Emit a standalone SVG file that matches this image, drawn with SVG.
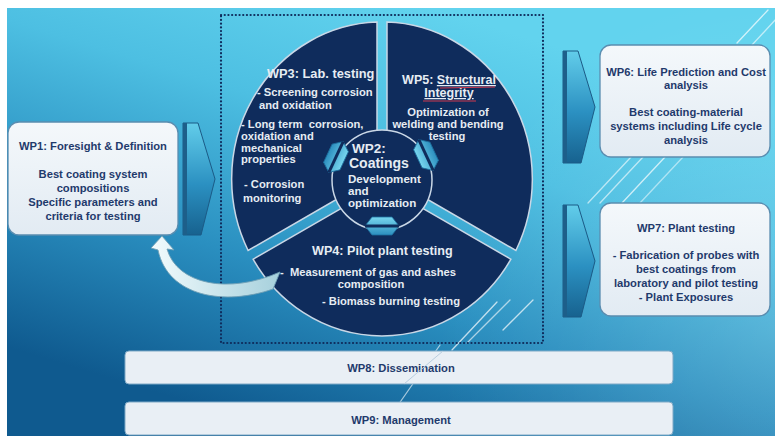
<svg xmlns="http://www.w3.org/2000/svg" width="777" height="436" viewBox="0 0 777 436">
  <defs>
    <linearGradient id="bg" gradientUnits="userSpaceOnUse" x1="430" y1="8" x2="300" y2="436">
      <stop offset="0" stop-color="#62d3ee"/>
      <stop offset="0.3" stop-color="#4dbfe2"/>
      <stop offset="0.65" stop-color="#2a8fc0"/>
      <stop offset="1" stop-color="#0f5a8f"/>
    </linearGradient>
    <radialGradient id="glow" gradientUnits="userSpaceOnUse" cx="777" cy="330" r="340">
      <stop offset="0" stop-color="#ffffff" stop-opacity="0.14"/>
      <stop offset="1" stop-color="#ffffff" stop-opacity="0"/>
    </radialGradient>
    <linearGradient id="card" x1="0" y1="0" x2="0" y2="1">
      <stop offset="0" stop-color="#f4f8fb"/>
      <stop offset="1" stop-color="#e2ebf3"/>
    </linearGradient>
    <linearGradient id="chev" x1="0" y1="0" x2="0" y2="1">
      <stop offset="0" stop-color="#62cdea"/>
      <stop offset="0.55" stop-color="#2b90c1"/>
      <stop offset="1" stop-color="#17628f"/>
    </linearGradient>
    <linearGradient id="hexg" x1="0" y1="0" x2="0" y2="1">
      <stop offset="0" stop-color="#78d6ef"/>
      <stop offset="1" stop-color="#2c8fbf"/>
    </linearGradient>
    <linearGradient id="arrowg" x1="0" y1="0" x2="1" y2="0">
      <stop offset="0" stop-color="#f2fbfd"/>
      <stop offset="1" stop-color="#a6d0dc"/>
    </linearGradient>
    <!-- hexagonal coupling piece, long axis horizontal -->
    <g id="hex">
      <polygon points="-17,0 -10,-9 10,-9 17,0 10,9 -10,9" fill="url(#hexg)" stroke="#1d6f9e" stroke-width="0.8"/>
      <line x1="-17" y1="0" x2="17" y2="0" stroke="#0f2c5c" stroke-width="3"/>
    </g>
  </defs>
  <style>
    .wt { font-family: "Liberation Sans", Arial, sans-serif; font-weight: bold; fill: #e6ecf3; }
    .bt { font-family: "Liberation Sans", Arial, sans-serif; font-weight: bold; fill: #1f3a6c; font-size: 11.2px; text-anchor: middle; }
    .sector { fill: #0f2c5c; stroke: #c9d7e6; stroke-width: 1.5; }
    .card { fill: url(#card); stroke: #5a8db0; stroke-width: 1.3; }
    .bar { fill: #e9eff5; stroke: #7fa9c6; stroke-width: 1; }
    .chev { fill: url(#chev); stroke: #1b5a86; stroke-width: 1; }
    .strip { fill: #1d5f8a; }
    .dec { stroke: #ffffff; stroke-width: 1.3; stroke-linecap: round; fill: none; }
  </style>

  <!-- backdrop -->
  <rect x="7" y="8" width="768" height="428" fill="url(#bg)"/>
  <rect x="7" y="8" width="768" height="428" fill="url(#glow)"/>

  <!-- diagonal light streaks -->
  <g class="dec">
    <line x1="452" y1="350" x2="497" y2="302" opacity="0.7"/>
    <line x1="467" y1="343" x2="510" y2="300" opacity="0.6"/>
    <line x1="503" y1="330" x2="533" y2="300" opacity="0.7"/>
    <line x1="396" y1="408" x2="440" y2="345" opacity="0.6"/>
    <line x1="588" y1="203" x2="631" y2="157" opacity="0.6"/>
    <line x1="600" y1="203" x2="643" y2="157" opacity="0.6"/>
    <line x1="622" y1="203" x2="665" y2="157" opacity="0.7"/>
    <line x1="640" y1="203" x2="683" y2="157" opacity="0.5"/>
    <line x1="737" y1="43" x2="768" y2="10" opacity="0.7"/>
    <line x1="752" y1="45" x2="777" y2="18" opacity="0.6"/>
  </g>

  <!-- dashed frame round the core work packages -->
  <rect x="221" y="15" width="322" height="328" fill="none" stroke="#0f2c5c" stroke-width="2.2" stroke-dasharray="0.1 3.6" stroke-linecap="round"/>

  <!-- WP3 sector -->
  <g id="node-wp3">
    <path class="sector" d="M377,176 L377,22.1 A150,157 0 0,0 248.1,250.5 Z"/>
    <g class="wt" font-size="11.2">
      <text x="267" y="78" font-size="12.8">WP3: Lab. testing</text>
      <text x="257" y="96">- Screening corrosion</text>
      <text x="259" y="109">and oxidation</text>
      <text x="241" y="128" style="white-space:pre">- Long term  corrosion,</text>
      <text x="241" y="140">oxidation and</text>
      <text x="241" y="152">mechanical</text>
      <text x="241" y="163">properties</text>
      <text x="244" y="188">- Corrosion</text>
      <text x="243" y="202">monitoring</text>
    </g>
  </g>

  <!-- WP5 sector -->
  <g id="node-wp5">
    <path class="sector" d="M387,176 L387,22.1 A150,157 0 0,1 515.9,250.5 Z"/>
    <g class="wt" font-size="11.2" text-anchor="middle">
      <text x="449" y="84" font-size="12.5">WP5: <tspan text-decoration="underline">Structural</tspan></text>
      <text x="449" y="97" font-size="12.5" text-decoration="underline">Integrity</text>
      <text x="448" y="116">Optimization of</text>
      <text x="448" y="128">welding and bending</text>
      <text x="447" y="140">testing</text>
    </g>
    <path d="M440,88 L495,87 M423,101 L476,101" stroke="#d0394f" stroke-width="1" fill="none"/>
  </g>

  <!-- WP4 sector -->
  <g id="node-wp4">
    <path class="sector" d="M382,184.8 L253.1,259.2 A150,157 0 0,0 510.9,259.2 Z"/>
    <g class="wt" font-size="11.2">
      <text x="312" y="255" font-size="12.6">WP4: Pilot plant testing</text>
      <text x="280" y="276" style="white-space:pre">-  Measurement of gas and ashes</text>
      <text x="371" y="288" text-anchor="middle">composition</text>
      <text x="322" y="305">- Biomass burning testing</text>
    </g>
  </g>

  <!-- WP2 hub -->
  <g id="node-wp2">
    <circle cx="382" cy="180" r="50" fill="#0f2c5c" stroke="#c9d7e6" stroke-width="1.5"/>
    <g class="wt">
      <text x="352" y="153" font-size="13.5">WP2:</text>
      <text x="349" y="168" font-size="14">Coatings</text>
      <text x="348" y="183" font-size="11.6">Development</text>
      <text x="348" y="195" font-size="11.6">and</text>
      <text x="348" y="207" font-size="11.6">optimization</text>
    </g>
  </g>

  <!-- WP1 card -->
  <g id="node-wp1">
    <rect class="card" x="8" y="122" width="170" height="113" rx="11"/>
    <text class="bt" x="93" y="150">WP1: Foresight &amp; Definition</text>
    <text class="bt" x="93" y="178">Best coating system</text>
    <text class="bt" x="93" y="192">compositions</text>
    <text class="bt" x="93" y="206">Specific parameters and</text>
    <text class="bt" x="93" y="220">criteria for testing</text>
  </g>

  <!-- WP6 card -->
  <g id="node-wp6">
    <rect class="card" x="600" y="45" width="170" height="112" rx="11"/>
    <text class="bt" x="686" y="76">WP6: Life Prediction and Cost</text>
    <text class="bt" x="686" y="89">analysis</text>
    <text class="bt" x="686" y="116">Best coating-material</text>
    <text class="bt" x="686" y="130">systems including Life cycle</text>
    <text class="bt" x="686" y="144">analysis</text>
  </g>

  <!-- WP7 card -->
  <g id="node-wp7">
    <rect class="card" x="600" y="203" width="170" height="113" rx="11"/>
    <text class="bt" x="686" y="232">WP7: Plant testing</text>
    <text class="bt" x="686" y="259">- Fabrication of probes with</text>
    <text class="bt" x="686" y="273">best coatings from</text>
    <text class="bt" x="686" y="287">laboratory and pilot testing</text>
    <text class="bt" x="686" y="301">- Plant Exposures</text>
  </g>

  <!-- WP8 / WP9 bars -->
  <g id="node-wp8">
    <rect class="bar" x="125" y="351" width="548" height="33" rx="4"/>
    <text class="bt" x="401" y="372">WP8: Dissemination</text>
  </g>
  <g id="node-wp9">
    <rect class="bar" x="125" y="402" width="548" height="33" rx="4"/>
    <text class="bt" x="401" y="424">WP9: Management</text>
  </g>
  <line x1="404" y1="384" x2="443" y2="351" stroke="#b9cedf" stroke-width="1"/>

  <!-- connectors -->
  <g id="connectors">
    <!-- couplings between the hub and its sectors -->
    <use href="#hex" transform="translate(336,157) rotate(115)"/>
    <use href="#hex" transform="translate(426,155) rotate(-115)"/>
    <use href="#hex" transform="translate(382,226)"/>

    <!-- chevron arrows -->
    <polygon class="chev" points="183,123 198,123 215,179 201,235 183,235"/>
    <rect class="strip" x="183" y="123" width="4" height="112"/>
    <polygon class="chev" points="563,51 578,51 595,107 581,163 563,163"/>
    <rect class="strip" x="563" y="51" width="4" height="112"/>
    <polygon class="chev" points="563,205 578,205 595,261 581,317 563,317"/>
    <rect class="strip" x="563" y="205" width="4" height="112"/>

    <!-- feedback arrow from WP4 back to WP1 -->
    <path d="M162,236 L174,250 L167,249 C177,284 228,295 280,272 L273,289 C225,306 168,297 158,250 L151,248 Z"
          fill="url(#arrowg)" stroke="#6f9fb6" stroke-width="0.9"/>
  </g>
</svg>
